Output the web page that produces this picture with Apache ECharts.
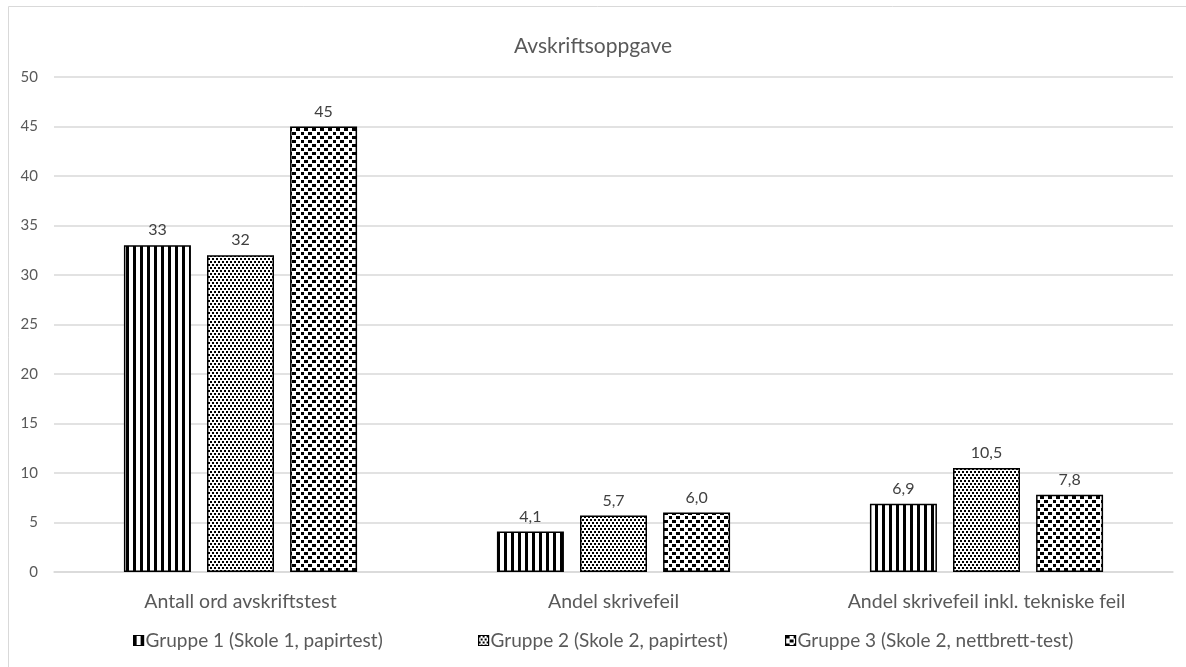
<!DOCTYPE html>
<html>
<head>
<meta charset="utf-8">
<script src="https://cdn.jsdelivr.net/npm/echarts@6/dist/echarts.min.js"></script>
<style>
  html, body { margin: 0; padding: 0; background: #fff; }
  #chart { width: 1186px; height: 667px; }
</style>
</head>
<body>
<div id="chart"></div>
<script>
// Chart data
const categories = ['Antall ord avskriftstest', 'Andel skrivefeil', 'Andel skrivefeil inkl. tekniske feil'];
const seriesNames = ['Gruppe 1 (Skole 1, papirtest)', 'Gruppe 2 (Skole 2, papirtest)', 'Gruppe 3 (Skole 2, nettbrett-test)'];
const gruppe1 = [33, 4.1, 6.9];
const gruppe2 = [32, 5.7, 10.5];
const gruppe3 = [45, 6.0, 7.8];
const labelDecimals = [0, 1, 1];
const yTicks = [0, 5, 10, 15, 20, 25, 30, 35, 40, 45, 50];

const FONT = 'Lato, "Open Sans", sans-serif';

// Black-and-white fill patterns drawn onto small canvases
function makePattern(w, h, rects) {
  const c = document.createElement('canvas');
  c.width = w; c.height = h;
  const ctx = c.getContext('2d');
  ctx.fillStyle = '#fff';
  ctx.fillRect(0, 0, w, h);
  ctx.fillStyle = '#000';
  rects.forEach(r => ctx.fillRect(r[0], r[1], r[2], r[3]));
  return { image: c, repeat: 'repeat' };
}
const stripes = makePattern(7, 4, [[0, 0, 3, 4]]);
const dots = makePattern(4, 6, [[0, 0, 2, 2], [2, 3, 2, 2]]);
const confetti = makePattern(16, 8, [
  [0, 0, 4, 3], [8, 0, 4, 3],
  [4, 4, 4, 3], [13, 4, 3, 3]
]);
const fills = [stripes, dots, confetti];
const values = [gruppe1, gruppe2, gruppe3];

// Legend entries sit at fixed horizontal positions
const legendLeft = [133, 478, 785];

const chart = echarts.init(document.getElementById('chart'), null, { renderer: 'canvas' });

const series = seriesNames.map((name, i) => ({
  name: name,
  type: 'bar',
  data: values[i],
  barWidth: 67,
  barGap: '24%',
  itemStyle: { color: fills[i], borderColor: '#000', borderWidth: 1.5 },
  label: {
    show: true,
    position: 'top',
    distance: 7,
    color: '#404040',
    fontSize: 16,
    fontFamily: FONT,
    formatter: p => p.value.toFixed(labelDecimals[p.dataIndex]).replace('.', ',')
  }
}));

const legends = seriesNames.map((name, i) => ({
  data: [name],
  top: 631,
  left: legendLeft[i],
  padding: 0,
  icon: 'rect',
  itemWidth: 10,
  itemHeight: 10,
  itemStyle: { borderColor: '#000', borderWidth: 1.2 },
  textStyle: { color: '#595959', fontSize: 19, fontFamily: FONT, padding: [0, 0, 0, -3] }
}));

chart.setOption({
  animation: false,
  backgroundColor: '#fff',
  graphic: [{
    type: 'rect',
    shape: { x: 8.5, y: 6.5, width: 1200, height: 700 },
    style: { fill: 'none', stroke: '#d9d9d9', lineWidth: 1 },
    silent: true,
    z: -1
  }],
  title: {
    text: 'Avskriftsoppgave',
    left: 'center',
    top: 31,
    textStyle: { color: '#595959', fontSize: 21, fontWeight: 'normal', fontFamily: FONT }
  },
  legend: legends,
  grid: { left: 54, right: 13, top: 77, bottom: 95 },
  xAxis: {
    type: 'category',
    data: categories,
    axisTick: { show: false },
    axisLine: { lineStyle: { color: '#d9d9d9', width: 1.5 } },
    axisLabel: { color: '#595959', fontSize: 19.5, fontFamily: FONT, margin: 20 }
  },
  yAxis: {
    type: 'value',
    min: yTicks[0],
    max: yTicks[yTicks.length - 1],
    interval: yTicks[1] - yTicks[0],
    axisLine: { show: false },
    axisTick: { show: false },
    splitLine: { lineStyle: { color: '#d9d9d9', width: 1.5 } },
    axisLabel: { color: '#595959', fontSize: 15, fontFamily: FONT, margin: 16 }
  },
  series: series
});
</script>
</body>
</html>
